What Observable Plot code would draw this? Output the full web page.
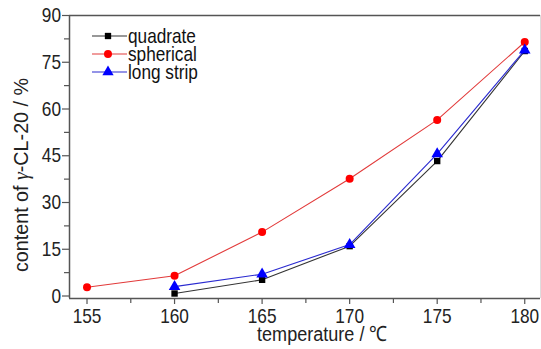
<!DOCTYPE html>
<html>
<head>
<meta charset="utf-8">
<script src="https://cdn.jsdelivr.net/npm/d3@7"></script>
<script src="https://cdn.jsdelivr.net/npm/@observablehq/plot@0.6"></script>
<style>
  html, body { margin: 0; padding: 0; background: #fff; }
  #chart svg { display: block; }
</style>
</head>
<body>
<div id="chart"></div>
<script>
const temps = [155, 160, 165, 170, 175, 180];
const quadrate = [null, 0.8, 5.2, 16.0, 43.3, 78.6];
const spherical = [2.8, 6.5, 20.5, 37.6, 56.5, 81.5];
const longStrip = [null, 3.0, 7.0, 16.5, 45.6, 78.9];
const seriesNames = ["quadrate", "spherical", "long strip"];
const yTicks = [0, 15, 30, 45, 60, 75, 90];
const yMinor = [7.5, 22.5, 37.5, 52.5, 67.5, 82.5];
const xTicks = [155, 160, 165, 170, 175, 180];
const xMinor = [157.5, 162.5, 167.5, 172.5, 177.5];

const FONT = "'Liberation Sans', Arial, sans-serif";
const SX = 0.82; // horizontal condensation of the reference's narrow font
const xDom = [154, 180.9];
const yDom = [-0.8, 90];

function rows(vals) {
  return temps.map((t, i) => ({t, v: vals[i]})).filter(d => d.v != null);
}
const qd = rows(quadrate), sd = rows(spherical), ld = rows(longStrip);

const axisColor = "#555";

const plot = Plot.plot({
  width: 541,
  height: 349,
  marginLeft: 69,
  marginRight: 1,
  marginTop: 15,
  marginBottom: 51,
  style: {fontFamily: FONT, fontSize: "21px", background: "#fff", color: "#222"},
  x: {domain: xDom},
  y: {domain: yDom},
  marks: [
    Plot.axisY({ticks: yTicks, tickSize: 7, tickPadding: 1.5, fontSize: 21, label: null, stroke: axisColor, strokeWidth: 1.2}),
    Plot.axisY({ticks: yMinor, tickSize: 5, text: null, label: null, stroke: axisColor, strokeWidth: 1.2}),
    Plot.axisX({ticks: xTicks, tickSize: 6, tickPadding: 4, fontSize: 21, label: null, stroke: axisColor, strokeWidth: 1.2}),
    Plot.axisX({ticks: xMinor, tickSize: 5, text: null, label: null, stroke: axisColor, strokeWidth: 1.2}),
    Plot.ruleX([xDom[0]], {stroke: axisColor, strokeWidth: 1.5}),
    Plot.ruleY([yDom[0]], {stroke: axisColor, strokeWidth: 1.5}),
    Plot.ruleY([yDom[1]], {stroke: axisColor, strokeWidth: 1.5}),
    Plot.ruleX([xDom[1]], {stroke: "#ddd", strokeWidth: 1}),
    Plot.line(qd, {x: "t", y: "v", stroke: "#333", strokeWidth: 1.1}),
    Plot.dot(qd, {x: "t", y: "v", symbol: "square", r: 3.6, fill: "#000", stroke: "none"}),
    Plot.line(sd, {x: "t", y: "v", stroke: "#e23a3a", strokeWidth: 1.1}),
    Plot.dot(sd, {x: "t", y: "v", symbol: "circle", r: 4, fill: "#f00", stroke: "none"}),
    Plot.line(ld, {x: "t", y: "v", stroke: "#2a2ad0", strokeWidth: 1.1}),
    Plot.dot(ld, {x: "t", y: "v", symbol: "triangle", r: 4.3, fill: "#00f", stroke: "none"})
  ]
});

document.getElementById("chart").appendChild(plot);
const svg = d3.select(plot);

// condense the axis tick labels horizontally (reference uses a narrow font)
svg.selectAll("text").each(function() {
  const len = this.getComputedTextLength();
  if (len > 0) {
    this.setAttribute("textLength", (len * SX).toFixed(2));
    this.setAttribute("lengthAdjust", "spacingAndGlyphs");
  }
});

// Axis titles
svg.append("text")
  .attr("transform", `translate(322,341) scale(0.86,1)`)
  .attr("text-anchor", "middle")
  .attr("font-family", FONT).attr("font-size", 21).attr("fill", "#222")
  .text("temperature / ℃");

const yl = svg.append("text")
  .attr("transform", `translate(28,175) rotate(-90) scale(0.94,1)`)
  .attr("text-anchor", "middle")
  .attr("font-family", FONT).attr("font-size", 21).attr("fill", "#222");
yl.append("tspan").text("content of ");
yl.append("tspan").attr("font-style", "italic").attr("font-family", "'Liberation Serif', serif").text("γ");
yl.append("tspan").text("-CL-20 / %");

// Legend
const legendItems = [
  {name: seriesNames[0], line: "#333", fill: "#000", sym: d3.symbolSquare, size: 40},
  {name: seriesNames[1], line: "#e23a3a", fill: "#f00", sym: d3.symbolCircle, size: 50},
  {name: seriesNames[2], line: "#2a2ad0", fill: "#00f", sym: d3.symbolTriangle, size: 55}
];
const lg = svg.append("g");
legendItems.forEach((it, i) => {
  const y = 36 + i * 18;
  lg.append("line").attr("x1", 92).attr("x2", 127).attr("y1", y).attr("y2", y)
    .attr("stroke", it.line).attr("stroke-width", 1.1);
  lg.append("path").attr("d", d3.symbol(it.sym, it.size)())
    .attr("transform", `translate(108,${y})`).attr("fill", it.fill);
  lg.append("text")
    .attr("transform", `translate(128,${y}) scale(${SX},1)`)
    .attr("dy", "0.35em").attr("text-anchor", "start")
    .attr("font-family", FONT).attr("font-size", 21).attr("fill", "#111")
    .text(it.name);
});
</script>
</body>
</html>
